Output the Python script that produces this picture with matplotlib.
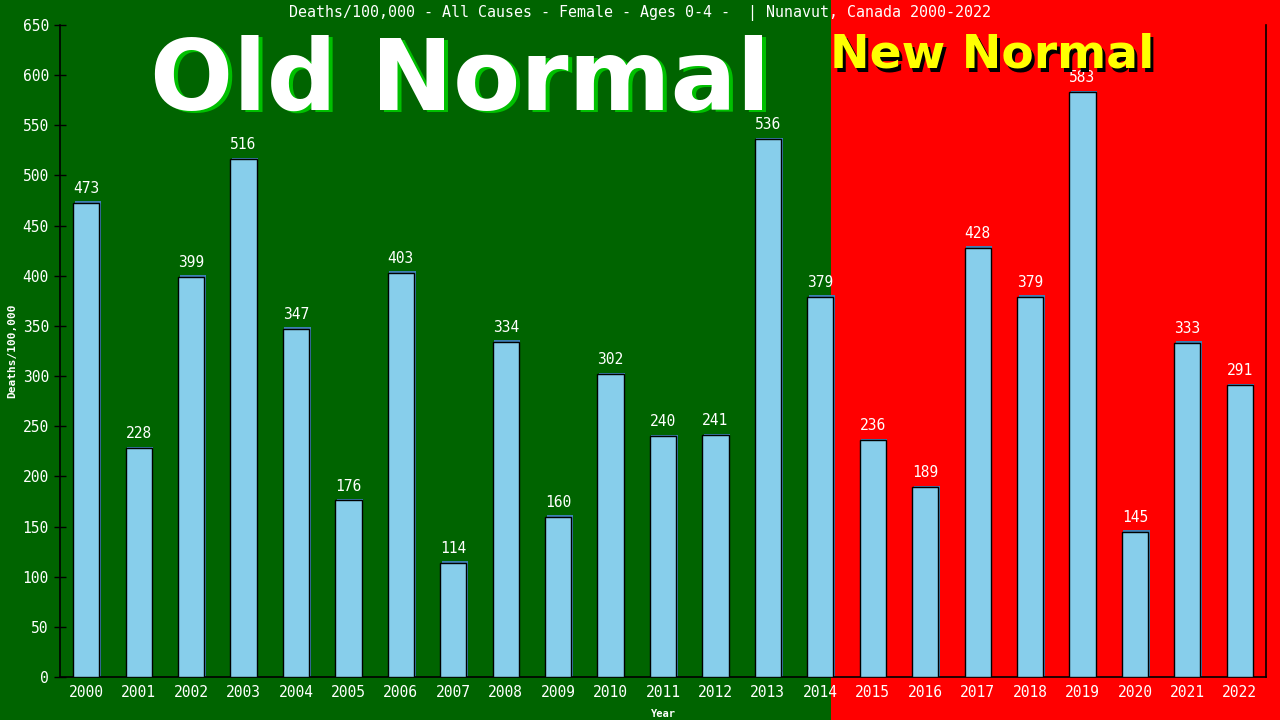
import matplotlib.pyplot as plt
import matplotlib.transforms as mtransforms
from matplotlib.patches import Rectangle

years = [str(y) for y in range(2000, 2023)]
deaths = [473, 228, 399, 516, 347, 176, 403, 114, 334, 160, 302, 240, 241,
          536, 379, 236, 189, 428, 379, 583, 145, 333, 291]

title = "Deaths/100,000 - All Causes - Female - Ages 0-4 -  | Nunavut, Canada 2000-2022"
mono = "DejaVu Sans Mono"

fig = plt.figure(figsize=(12.8, 7.2), dpi=100)
fig.patch.set_facecolor("#006400")
ax = fig.add_axes([60/1280, 43/720, 1206/1280, 652/720])
ax.set_facecolor("none")

x = list(range(len(years)))

# red "new normal" background from just right of the 2014 bar to the figure edge
split = 14.2
trans = mtransforms.blended_transform_factory(ax.transData, fig.transFigure)
fig.patches.append(Rectangle((split, 0), 40, 1, transform=trans,
                             facecolor="#ff0000", edgecolor="none", zorder=-5))

# bars: thin steelblue shadow behind, skyblue with black edge on top
ax.bar([i + 0.03 for i in x], [d + 1.5 for d in deaths], width=0.5,
       color="#3f7fb5", zorder=2)
ax.bar(x, deaths, width=0.5, color="#87ceeb", edgecolor="black",
       linewidth=1, zorder=3)

for i, d in zip(x, deaths):
    ax.annotate(str(d), (i, d), textcoords="offset points", xytext=(0, 5),
                ha="center", va="bottom", color="white", fontsize=10.5,
                family=mono, zorder=4)

ax.set_xlim(-0.5, len(years) - 0.5)
ax.set_ylim(0, 650)
ax.set_yticks(range(0, 651, 50))
ax.set_xticks(x)
ax.set_xticklabels(years)
ax.tick_params(axis="x", length=0, pad=6, colors="white", labelsize=10.5)
ax.tick_params(axis="y", direction="inout", length=8, width=1, colors="black",
               labelcolor="white", labelsize=10.5, pad=4)
for lab in ax.get_xticklabels() + ax.get_yticklabels():
    lab.set_family(mono)

ax.spines["top"].set_visible(False)
for s in ("left", "bottom", "right"):
    ax.spines[s].set_color("black")
    ax.spines[s].set_linewidth(1.2)

ax.set_xlabel("Year", color="white", fontsize=7.5, family=mono,
              fontweight="bold", labelpad=6)
ax.set_ylabel("Deaths/100,000", color="white", fontsize=8, family=mono,
              fontweight="bold", labelpad=4)

fig.text(0.5, 0.982, title, ha="center", va="center", color="white",
         fontsize=10.8, family=mono)

# big labels with offset shadows
def shadow_text(xf, yf, s, size, color, shade, dx, dy):
    sh = mtransforms.offset_copy(fig.transFigure, fig=fig, x=dx, y=-dy, units="dots")
    fig.text(xf, yf, s, transform=sh, ha="center", va="baseline", color=shade,
             fontsize=size, fontweight="bold", family="DejaVu Sans", zorder=5)
    fig.text(xf, yf, s, ha="center", va="baseline", color=color,
             fontsize=size, fontweight="bold", family="DejaVu Sans", zorder=6)

shadow_text(460.5/1280, (720-110)/720, "Old Normal", 70.5, "white", "#00c000", 4, 2)
shadow_text(992/1280, (720-68)/720, "New Normal", 34, "#ffff00", "black", 3, 3)

fig.savefig("out.png", dpi=100, facecolor=fig.get_facecolor())
